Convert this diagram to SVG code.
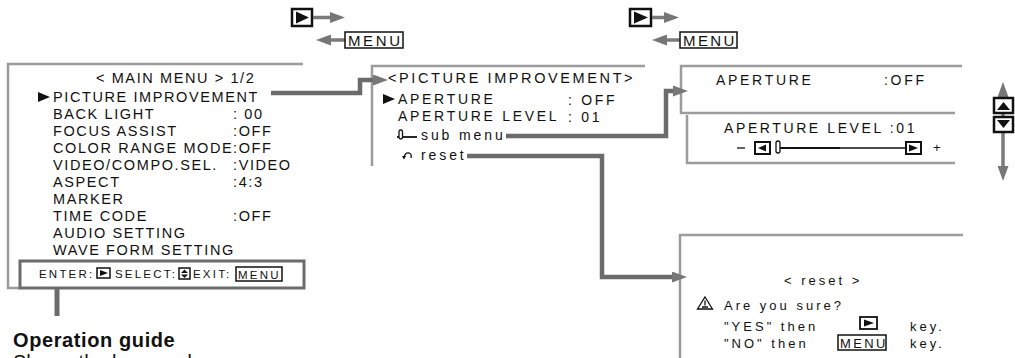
<svg xmlns="http://www.w3.org/2000/svg" width="1015" height="358" viewBox="0 0 1015 358">
<style>
text{font-family:"Liberation Sans",Arial,sans-serif;fill:#111}
.m{font-size:14.5px;letter-spacing:1.6px}
.p{font-size:14.5px;letter-spacing:2.6px}
.a{font-size:14px;letter-spacing:2.7px}
.r{font-size:13px;letter-spacing:3px}
.g{font-size:11.5px;letter-spacing:2.2px}
.k{font-size:14px;letter-spacing:2.9px}
.frame{fill:none;stroke:#9c9c9c;stroke-width:2.5}
.conn{fill:none;stroke:#6b6b6b;stroke-width:4.5}
.nav{fill:none;stroke:#7a7a7a;stroke-width:3.5}
.kb{fill:#fff;stroke:#111;stroke-width:1.5}
.kbt{fill:#fff;stroke:#111;stroke-width:2.5}
.tri{fill:#111}
</style>
<defs>
<marker id="ah" markerUnits="userSpaceOnUse" markerWidth="16" markerHeight="11" refX="3" refY="5.5" orient="auto-start-reverse">
<path d="M0,0 L15,5.5 L0,11 Z" fill="#777"/>
</marker>
</defs>

<g id="nav-left">
<rect class="kbt" x="292" y="9" width="20" height="17"/>
<path class="tri" d="M296,11.5 L309,17.5 L296,23.5 Z"/>
<line class="nav" x1="313" y1="17.5" x2="333" y2="17.5" marker-end="url(#ah)"/>
<line class="nav" x1="345" y1="40" x2="328" y2="40" marker-end="url(#ah)"/>
<rect class="kb" x="345" y="32" width="58" height="16"/>
<text x="348" y="46" class="k" style="font-size:15px;letter-spacing:2.6px">MENU</text>
</g>

<g id="nav-right">
<rect class="kbt" x="630" y="9" width="21" height="17"/>
<path class="tri" d="M634,11.5 L648,17.5 L634,23.5 Z"/>
<line class="nav" x1="652" y1="17.5" x2="667" y2="17.5" marker-end="url(#ah)"/>
<line class="nav" x1="680" y1="40" x2="664" y2="40" marker-end="url(#ah)"/>
<rect class="kb" x="680" y="32" width="57" height="16"/>
<text x="683" y="46" class="k" style="font-size:15px;letter-spacing:2.4px">MENU</text>
</g>

<g id="main-menu">
<path class="frame" d="M303,64 H8 V288 H20"/>
<text x="96" y="83" class="m">&lt; MAIN MENU &gt; 1/2</text>
<path class="tri" d="M38,92 L50,97 L38,102 Z"/>
<text x="53" y="102" class="m">PICTURE IMPROVEMENT</text>
<text x="53" y="119" class="m">BACK LIGHT</text><text x="233" y="119" class="m">: 00</text>
<text x="53" y="136" class="m">FOCUS ASSIST</text><text x="233" y="136" class="m">:OFF</text>
<text x="53" y="153" class="m">COLOR RANGE MODE</text><text x="233" y="153" class="m">:OFF</text>
<text x="53" y="170" class="m">VIDEO/COMPO.SEL.</text><text x="233" y="170" class="m">:VIDEO</text>
<text x="53" y="187" class="m">ASPECT</text><text x="233" y="187" class="m">:4:3</text>
<text x="53" y="204" class="m">MARKER</text>
<text x="53" y="221" class="m">TIME CODE</text><text x="233" y="221" class="m">:OFF</text>
<text x="53" y="238" class="m">AUDIO SETTING</text>
<text x="53" y="255" class="m">WAVE FORM SETTING</text>
</g>

<g id="operation-guide">
<rect x="20" y="261" width="284" height="27" fill="#fff" stroke="#6b6b6b" stroke-width="3"/>
<text x="39" y="278" class="g">ENTER:</text>
<rect class="kb" x="97" y="268" width="13" height="10"/>
<path class="tri" d="M100,270 L108,273 L100,276 Z"/>
<text x="115" y="278" class="g">SELECT:</text>
<rect class="kb" x="179" y="268" width="11" height="11"/>
<path class="tri" d="M181,273 L184.5,269.5 L188,273 Z M181,274.5 L188,274.5 L184.5,278 Z"/>
<text x="193" y="278" class="g">EXIT:</text>
<rect class="kb" x="236" y="267" width="46" height="14"/>
<text x="238" y="279" class="g">MENU</text>
<line x1="57" y1="289" x2="57" y2="316" stroke="#6b6b6b" stroke-width="5"/>
<text x="13" y="347" style="font-size:20px;font-weight:bold;letter-spacing:0.6px">Operation guide</text>
<text x="13" y="369" style="font-size:20px">Shows the keys and</text>
</g>

<g id="picture-improvement">
<path class="frame" d="M645,66 H372 V166"/>
<text x="388" y="83" class="p">&lt;PICTURE IMPROVEMENT&gt;</text>
<path class="tri" d="M383,94 L395,99 L383,104 Z"/>
<text x="398" y="104" class="a">APERTURE</text><text x="568" y="105" class="a">: OFF</text>
<text x="398" y="121" class="a">APERTURE LEVEL</text><text x="568" y="122" class="a">: 01</text>
<line x1="397" y1="137" x2="417" y2="137" stroke="#111" stroke-width="1.8"/>
<rect x="399" y="130" width="3.5" height="9" rx="1.7" fill="#fff" stroke="#111" stroke-width="1.3"/>
<text x="421" y="140" class="k">sub menu</text>
<path d="M404,158 Q405,152 409,153 Q412,154 411,158" fill="none" stroke="#111" stroke-width="1.3"/>
<path class="tri" d="M402,156 L406,156 L404,159.5 Z"/>
<text x="421" y="160" class="k">reset</text>
</g>

<g id="aperture">
<path class="frame" d="M962,66 H681 V113 H955"/>
<text x="716" y="85" class="a">APERTURE</text>
<text x="884" y="85" class="a">:OFF</text>
</g>

<g id="aperture-level">
<path class="frame" d="M687,115 V163 H955"/>
<text x="724" y="133" class="a" style="letter-spacing:2.6px">APERTURE LEVEL :01</text>
<line x1="737" y1="148" x2="745" y2="148" stroke="#111" stroke-width="1.3"/>
<rect class="kbt" x="755" y="142" width="15" height="12" style="stroke-width:2"/>
<path class="tri" d="M766,144.5 L758,148 L766,151.5 Z"/>
<line x1="780" y1="148" x2="840" y2="148" stroke="#111" stroke-width="2"/>
<line x1="840" y1="148" x2="905" y2="148" stroke="#111" stroke-width="1.4"/>
<rect x="776" y="141" width="4" height="12" rx="2" fill="#fff" stroke="#111" stroke-width="1.3"/>
<rect class="kbt" x="906" y="142" width="15" height="12" style="stroke-width:2"/>
<path class="tri" d="M909,144.5 L918,148 L909,151.5 Z"/>
<text x="933" y="152" style="font-size:13px">+</text>
</g>

<g id="scroll">
<line class="nav" x1="1003" y1="94" x2="1003" y2="169" marker-start="url(#ah)" marker-end="url(#ah)"/>
<rect class="kbt" x="994" y="98" width="19" height="15" style="stroke-width:2.5"/>
<path class="tri" d="M997,110 L1003.5,102 L1010,110 Z"/>
<rect class="kbt" x="994" y="117" width="19" height="15" style="stroke-width:2.5"/>
<path class="tri" d="M997,120 L1010,120 L1003.5,128 Z"/>
</g>

<g id="reset">
<path class="frame" d="M963,235 H680 V358"/>
<text x="784" y="285" class="r">&lt; reset &gt;</text>
<path d="M705,297 L712.5,309 L697.5,309 Z" fill="none" stroke="#111" stroke-width="1.3"/>
<path d="M705,300.5 L705,305.5 M702,307 L708,307" stroke="#111" stroke-width="1.3"/>
<text x="724" y="310" class="r">Are you sure?</text>
<text x="724" y="331" class="r">"YES" then</text>
<rect class="kbt" x="860" y="317" width="17" height="12" style="stroke-width:1.8"/>
<path class="tri" d="M864,319.5 L874,323 L864,326.5 Z"/>
<text x="910" y="331" class="r">key.</text>
<text x="724" y="348" class="r">"NO" then</text>
<rect class="kb" x="838" y="335" width="48" height="15"/>
<text x="840" y="348" class="r" style="letter-spacing:2.4px">MENU</text>
<text x="910" y="348" class="r">key.</text>
</g>

<g id="connectors">
<path class="conn" d="M271,93 H360 V80 H376" marker-end="url(#ah)"/>
<path class="conn" d="M506,136 H666 V91 H676" marker-end="url(#ah)"/>
<path class="conn" d="M467,156 H602 V277 H675" marker-end="url(#ah)"/>
</g>
</svg>
